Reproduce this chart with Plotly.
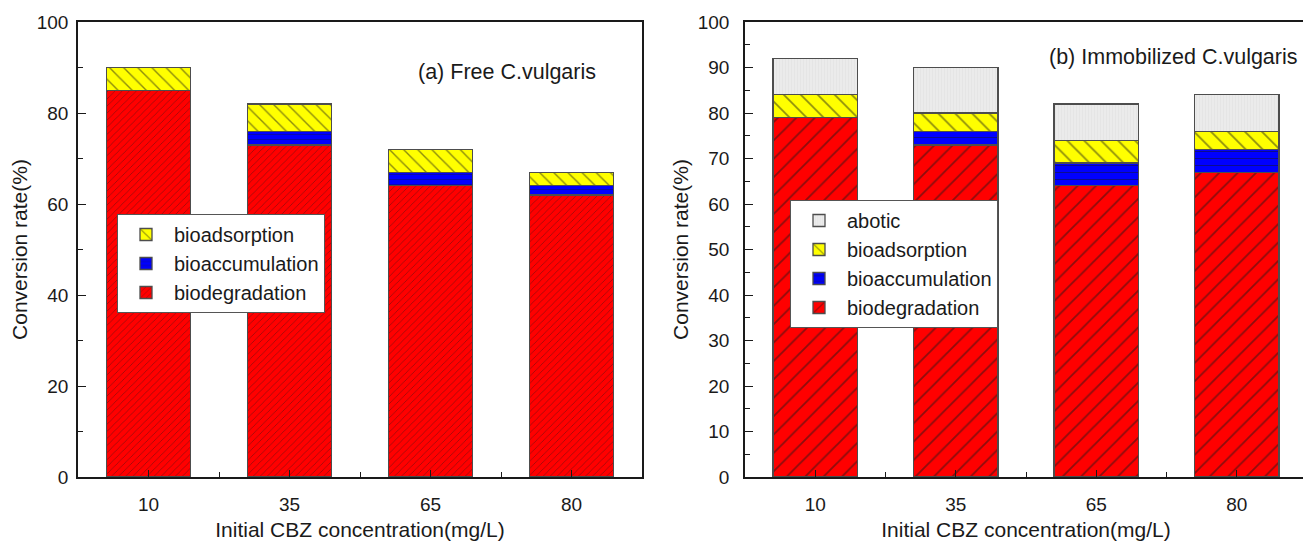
import plotly.graph_objects as go

# ---------------- data ----------------
categories = ["10", "35", "65", "80"]

# (a) Free C.vulgaris
free_biodegradation = [85, 73, 64, 62]
free_bioaccumulation = [0, 3, 3, 2]
free_bioadsorption = [5, 6, 5, 3]

# (b) Immobilized C.vulgaris
imm_biodegradation = [79, 73, 64, 67]
imm_bioaccumulation = [0, 3, 5, 5]
imm_bioadsorption = [5, 4, 5, 4]
imm_abotic = [8, 10, 8, 8]

y_ticks_a = [0, 20, 40, 60, 80, 100]
y_ticks_b = [0, 10, 20, 30, 40, 50, 60, 70, 80, 90, 100]

# ---------------- styling ----------------
FONT = "Liberation Sans, Arial, sans-serif"
TXT = "#1a1a1a"
OFF = 8                      # default body margin of the html page
W, H = 1311 - OFF, 545 - OFF
xpos = list(range(len(categories)))

RED, BLUE, YEL, GREY = "#ff0000", "#0000ff", "#ffff00", "#ebebeb"
EDGE = dict(color="#4d4d4d", width=1.3)


def bar(name, y, color, shape, size, legend, xaxis, yaxis, fg="#1a1a1a", sol=0.14):
    return go.Bar(
        x=xpos, y=y, name=name, width=0.6,
        marker=dict(color=color, line=EDGE,
                    pattern=dict(shape=shape, size=size, solidity=sol, fgcolor=fg)),
        legend=legend, xaxis=xaxis, yaxis=yaxis, hoverinfo="skip",
    )


fig = go.Figure()
# panel (a)
fig.add_trace(bar("biodegradation", free_biodegradation, RED, "/", 5, "legend", "x", "y"))
fig.add_trace(bar("bioaccumulation", free_bioaccumulation, BLUE, "-", 5, "legend", "x", "y"))
fig.add_trace(bar("bioadsorption", free_bioadsorption, YEL, "\\", 10, "legend", "x", "y"))
# panel (b)
fig.add_trace(bar("biodegradation", imm_biodegradation, RED, "/", 13, "legend2", "x2", "y2"))
fig.add_trace(bar("bioaccumulation", imm_bioaccumulation, BLUE, "-", 7, "legend2", "x2", "y2"))
fig.add_trace(bar("bioadsorption", imm_bioadsorption, YEL, "\\", 12, "legend2", "x2", "y2"))
fig.add_trace(bar("abotic", imm_abotic, GREY, "|", 3, "legend2", "x2", "y2", fg="#dedede", sol=0.3))


def px_x(p):
    return (p - OFF) / W


def px_y(p):
    return 1 - (p - OFF) / H


ydom = [px_y(477), px_y(22)]
xdom_a = [px_x(78), px_x(642)]
xdom_b = [px_x(745), px_x(1307)]

FS_TICK = 19
FS_TITLE = 21
FS_LEG = 20
axis_common = dict(
    showline=True, linecolor="#1a1a1a", linewidth=1.5, mirror=True,
    ticks="inside", tickcolor="#1a1a1a", tickwidth=1.3,
    showgrid=False, zeroline=False, automargin=False,
    tickfont=dict(family=FONT, size=FS_TICK, color=TXT),
)
title_font = dict(family=FONT, size=FS_TITLE, color=TXT)

xaxis_common = dict(
    axis_common, range=[-0.5, 3.5], tickmode="array", tickvals=xpos, ticktext=categories,
    ticklen=7,
    minor=dict(ticks="inside", tickmode="linear", tick0=0.5, dtick=1, ticklen=5,
               tickcolor="#1a1a1a", tickwidth=1.3),
    title=dict(text="Initial CBZ concentration(mg/L)", font=title_font, standoff=9),
    ticklabelstandoff=9,
)

legend_common = dict(
    xanchor="left", yanchor="top",
    bgcolor="white", bordercolor="#555555", borderwidth=1,
    traceorder="reversed", font=dict(family=FONT, size=FS_LEG, color=TXT),
    itemwidth=46, tracegroupgap=0,
)

fig.update_layout(
    width=W, height=H,
    margin=dict(l=0, r=0, t=0, b=0),
    paper_bgcolor="white", plot_bgcolor="white",
    barmode="stack", bargap=0.4,
    font=dict(family=FONT, color=TXT),
    xaxis=dict(xaxis_common, domain=xdom_a, anchor="y"),
    yaxis=dict(axis_common, domain=ydom, anchor="x", range=[0, 100],
               tickmode="array", tickvals=y_ticks_a, ticklen=8, ticklabelstandoff=4,
               minor=dict(ticks="inside", tickmode="linear", tick0=10, dtick=20, ticklen=5,
                          tickcolor="#1a1a1a", tickwidth=1.3),
               title=dict(text="Conversion rate(%)", font=title_font, standoff=4)),
    xaxis2=dict(xaxis_common, domain=xdom_b, anchor="y2"),
    yaxis2=dict(axis_common, domain=ydom, anchor="x2", range=[0, 100],
                tickmode="array", tickvals=y_ticks_b, ticklen=8, ticklabelstandoff=10,
                minor=dict(ticks="inside", tickmode="linear", tick0=5, dtick=10, ticklen=5,
                           tickcolor="#1a1a1a", tickwidth=1.3),
                title=dict(text="Conversion rate(%)", font=title_font, standoff=3)),
    legend=dict(legend_common, x=px_x(117), y=px_y(214)),
    legend2=dict(legend_common, x=px_x(790), y=px_y(200)),
    annotations=[
        dict(text="(a) Free C.vulgaris", x=px_x(507), y=px_y(72), xref="paper", yref="paper",
             showarrow=False, font=dict(family=FONT, size=21.5, color=TXT),
             xanchor="center", yanchor="middle", bgcolor="white"),
        dict(text="(b) Immobilized C.vulgaris", x=px_x(1173), y=px_y(57), xref="paper", yref="paper",
             showarrow=False, font=dict(family=FONT, size=21.5, color=TXT),
             xanchor="center", yanchor="middle", bgcolor="white"),
    ],
    showlegend=True,
)

fig.write_html("out.html")
